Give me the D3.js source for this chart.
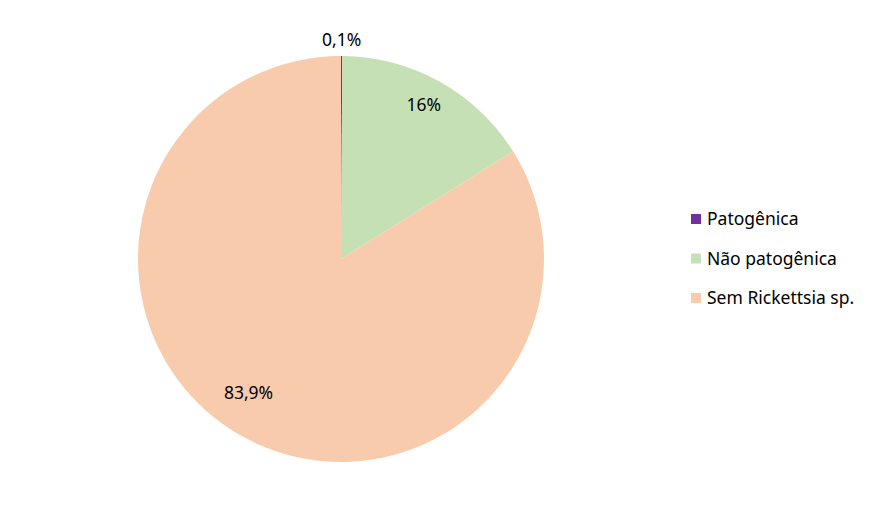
<!DOCTYPE html>
<html>
<head>
<meta charset="utf-8">
<script src="https://cdn.jsdelivr.net/npm/d3@7"></script>
<style>
  body { margin: 0; background: #fff; }
  svg { display: block; font-family: "Noto Sans", "Open Sans", sans-serif; }
</style>
</head>
<body>
<svg width="886" height="517"></svg>
<script>
// dados do gráfico
const categorias = ["Patogênica", "Não patogênica", "Sem Rickettsia sp."];
const valores = [0.1, 16, 83.9];
const rotulos = ["0,1%", "16%", "83,9%"];
const cores = ["#7030A0", "#C5E0B4", "#F8CBAD"];

const svg = d3.select("svg");
const cx = 341, cy = 259, r = 203;

const data = categorias.map((c, i) => ({ cat: c, v: valores[i], label: rotulos[i], cor: cores[i] }));

const pie = d3.pie().value(d => d.v).sort(null);
const arc = d3.arc().innerRadius(0).outerRadius(r);
const arcs = pie(data);

const g = svg.append("g").attr("transform", `translate(${cx},${cy})`);

g.selectAll("path")
  .data(arcs)
  .enter()
  .append("path")
  .attr("d", arc)
  .attr("fill", d => d.data.cor);

// posições dos rótulos (raio relativo e desvio angular de cada um)
const raioRotulo = [1.08, 0.86, 0.80];
const desvio = [0, -0.015, 0.10];
g.selectAll("text")
  .data(arcs)
  .enter()
  .append("text")
  .attr("transform", (d, i) => {
    const a = (d.startAngle + d.endAngle) / 2 + desvio[i];
    const rr = r * raioRotulo[i];
    return `translate(${Math.sin(a) * rr},${-Math.cos(a) * rr})`;
  })
  .attr("text-anchor", "middle")
  .attr("dy", "0.35em")
  .style("font-size", "17.5px")
  .style("fill", "#000")
  .text(d => d.data.label);

// legenda
const legenda = svg.append("g").attr("transform", "translate(691,219)");
const itens = legenda.selectAll("g")
  .data(data)
  .enter()
  .append("g")
  .attr("transform", (d, i) => `translate(0,${i * 39.5})`);

itens.append("rect")
  .attr("x", 0).attr("y", -5)
  .attr("width", 10).attr("height", 10)
  .attr("fill", d => d.cor);

itens.append("text")
  .attr("x", 16)
  .attr("dy", "0.35em")
  .style("font-size", "17.5px")
  .style("fill", "#000")
  .text(d => d.cat);
</script>
</body>
</html>
